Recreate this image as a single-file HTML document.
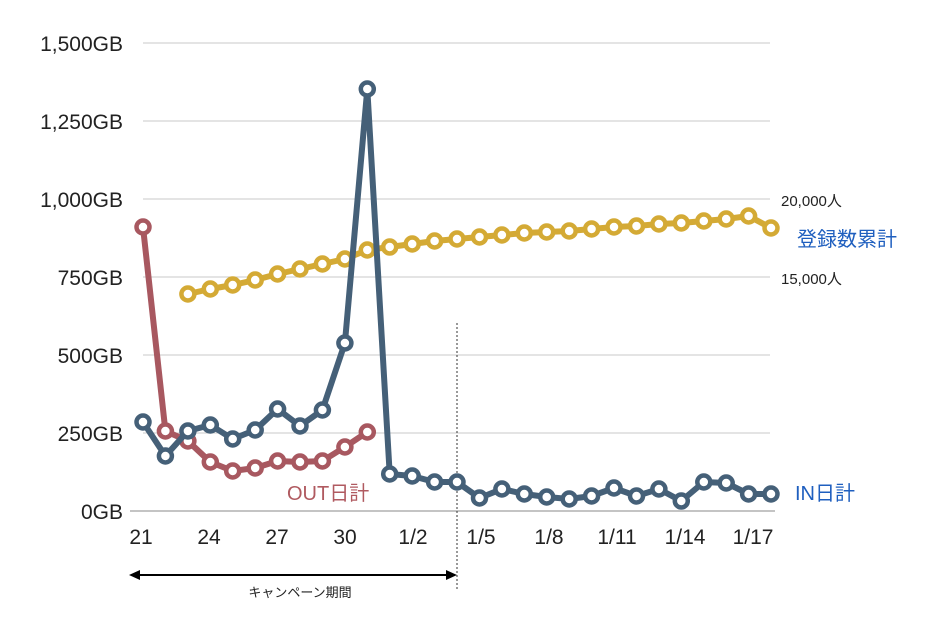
<!DOCTYPE html>
<html><head><meta charset="utf-8"><style>body{margin:0;background:#fff}svg{display:block}text{font-family:"Liberation Sans","Noto Sans CJK JP",sans-serif}</style></head><body>
<svg width="950" height="619" xmlns="http://www.w3.org/2000/svg">
<defs>
<marker id="my" markerUnits="userSpaceOnUse" markerWidth="20" markerHeight="20" refX="10" refY="10"><circle cx="10" cy="10" r="6.5" fill="#fff" stroke="#d4aa35" stroke-width="4.5"/></marker>
<marker id="mo" markerUnits="userSpaceOnUse" markerWidth="20" markerHeight="20" refX="10" refY="10"><circle cx="10" cy="10" r="6.5" fill="#fff" stroke="#a85860" stroke-width="4.5"/></marker>
<marker id="mi" markerUnits="userSpaceOnUse" markerWidth="20" markerHeight="20" refX="10" refY="10"><circle cx="10" cy="10" r="6.5" fill="#fff" stroke="#456078" stroke-width="4.5"/></marker>
</defs>
<g stroke="#c8c8c8" stroke-width="1">
<line x1="143" y1="43" x2="770" y2="43"/><line x1="143" y1="121" x2="770" y2="121"/><line x1="143" y1="199" x2="770" y2="199"/><line x1="143" y1="277" x2="770" y2="277"/><line x1="143" y1="355" x2="770" y2="355"/><line x1="143" y1="433" x2="770" y2="433"/>
</g>
<line x1="130" y1="511" x2="775" y2="511" stroke="#888" stroke-width="1"/>
<g font-size="21" fill="#222" text-anchor="end">
<text x="123" y="51">1,500GB</text><text x="123" y="129">1,250GB</text><text x="123" y="207">1,000GB</text><text x="123" y="285">750GB</text><text x="123" y="363">500GB</text><text x="123" y="441">250GB</text><text x="123" y="519">0GB</text>
</g>
<g font-size="21" fill="#222" text-anchor="middle">
<text x="141" y="544">21</text><text x="209" y="544">24</text><text x="277" y="544">27</text><text x="345" y="544">30</text><text x="413" y="544">1/2</text><text x="481" y="544">1/5</text><text x="549" y="544">1/8</text><text x="617" y="544">1/11</text><text x="685" y="544">1/14</text><text x="753" y="544">1/17</text>
</g>
<line x1="457" y1="323" x2="457" y2="590" stroke="#333" stroke-width="1" stroke-dasharray="2,2"/>
<line x1="136" y1="575" x2="450" y2="575" stroke="#000" stroke-width="2"/>
<polygon points="129,575 140,570 140,580" fill="#000"/><polygon points="457,575 446,570 446,580" fill="#000"/>
<text x="300" y="597" font-size="13" text-anchor="middle" fill="#222">キャンペーン期間</text>

<polyline fill="none" stroke="#d4aa35" stroke-width="6" stroke-linejoin="round" marker-start="url(#my)" marker-mid="url(#my)" marker-end="url(#my)"
points="187.9,294 210.3,289 232.7,285 255.2,280 277.6,274 300,269 322.4,264 344.9,259 367.3,250 389.7,247 412.2,244 434.6,241 457,239 479.5,237 501.9,235 524.3,233 546.7,232 569.2,231 591.6,229 614,227 636.5,226 658.9,224 681.3,223 703.8,221 726.2,219 748.6,216 771,228"/>
<polyline fill="none" stroke="#a85860" stroke-width="6" stroke-linejoin="round" marker-start="url(#mo)" marker-mid="url(#mo)" marker-end="url(#mo)"
points="143,227 165.4,431 187.9,441 210.3,462 232.7,471 255.2,468 277.6,461 300,462 322.4,461 344.9,447 367.3,432"/>
<polyline fill="none" stroke="#456078" stroke-width="6" stroke-linejoin="round" marker-start="url(#mi)" marker-mid="url(#mi)" marker-end="url(#mi)"
points="143,422 165.4,456 187.9,431 210.3,425 232.7,439 255.2,430 277.6,409 300,426 322.4,410 344.9,343 367.3,89 389.7,474 412.2,476 434.6,482 457,482 479.5,498 501.9,489 524.3,494 546.7,497 569.2,499 591.6,496 614,488 636.5,496 658.9,489 681.3,501 703.8,482 726.2,483 748.6,494 771,494"/>

<text x="287" y="500" font-size="20" fill="#b05a60">OUT日計</text>
<text x="795" y="500" font-size="20" fill="#1f5fbf">IN日計</text>
<text x="797" y="246" font-size="20" fill="#1f5fbf">登録数累計</text>
<text x="781" y="206" font-size="15" fill="#222">20,000人</text>
<text x="781" y="284" font-size="15" fill="#222">15,000人</text>
</svg>
</body></html>
